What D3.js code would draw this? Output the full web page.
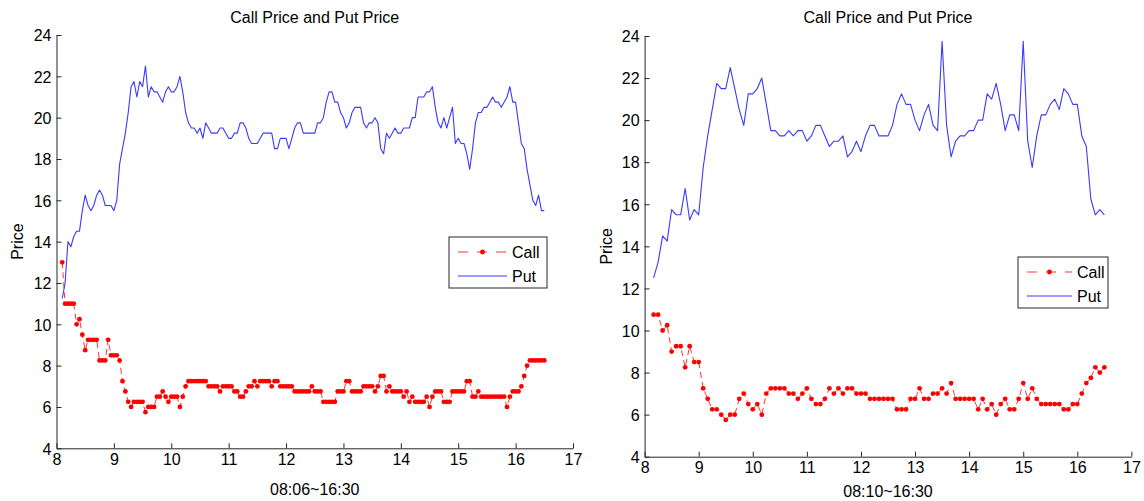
<!DOCTYPE html>
<html>
<head>
<meta charset="utf-8">
<script src="https://cdn.jsdelivr.net/npm/d3@7"></script>
<style>
  html, body { margin: 0; padding: 0; background: #fff; }
  svg { display: block; font-family: "Liberation Sans", Arial, sans-serif; }
</style>
</head>
<body>
<svg id="chart" width="1144" height="501"></svg>
<script>
// Tick values shared by both panels
const xTicks = [8, 9, 10, 11, 12, 13, 14, 15, 16, 17];
const yTicks = [4, 6, 8, 10, 12, 14, 16, 18, 20, 22, 24];

// Session 08:06~16:30, one quote every 3 minutes
const leftStart = 8 + 6 / 60;
const leftStep = 3 / 60;
const callLeft = [13,
  11, 11, 11, 11, 10, 10.25, 9.5, 8.75, 9.25, 9.25, 9.25, 9.25,
  8.25, 8.25, 8.25, 9.25, 8.5, 8.5, 8.5, 8.25, 7.25, 6.75, 6.25, 6,
  6.25, 6.25, 6.25, 6.25, 5.75, 6, 6, 6, 6.5, 6.5, 6.75, 6.5, 6.25,
  6.5, 6.5, 6.5, 6, 6.5, 7, 7.25, 7.25, 7.25, 7.25, 7.25, 7.25, 7.25,
  7, 7, 7, 7, 6.75, 7, 7, 7, 7, 6.75, 6.75, 6.5, 6.5, 6.75, 7, 7, 7.25, 7,
  7.25, 7.25, 7.25, 7.25, 7, 7.25, 7.25, 7, 7, 7, 7, 7,
  6.75, 6.75, 6.75, 6.75, 6.75, 6.75, 7, 6.75, 6.75, 6.75,
  6.25, 6.25, 6.25, 6.25, 6.25, 6.75, 6.75, 6.75, 7.25, 7.25,
  6.75, 6.75, 6.75, 6.75, 7, 7, 7, 7, 6.75, 7, 7.5, 7.5, 6.75, 7,
  6.75, 6.75, 6.75, 6.75, 6.5, 6.75, 6.25, 6.5, 6.25, 6.25, 6.25, 6.25,
  6.5, 6, 6.5, 6.75, 6.75, 6.75, 6.25, 6.25, 6.25, 6.75, 6.75, 6.75, 6.75, 6.75,
  7.25, 7.25, 6.5, 6.5, 6.75, 6.5, 6.5, 6.5, 6.5, 6.5, 6.5, 6.5, 6.5, 6.5,
  6, 6.5, 6.75, 6.75, 6.75, 7, 7.5, 8, 8.25, 8.25, 8.25, 8.25, 8.25, 8.25];
const putLeft = [11.25, 12, 14, 13.75, 14.25, 14.5, 14.5, 15.5, 16.25, 15.75,
  15.5, 15.75, 16.25, 16.5, 16.25, 15.75, 15.75, 15.75, 15.5, 16,
  17.75, 18.5, 19.25, 20.25, 21.5, 21.75, 21, 21.75, 21.5, 22.5,
  21, 21.5, 21.25, 21.25, 21, 20.75, 21.25, 21.5, 21.25, 21.25,
  21.5, 22, 21.25, 20.25, 19.75, 19.5, 19.5, 19.25, 19.5, 19,
  19.75, 19.5, 19.25, 19.25, 19.25, 19.5, 19.5, 19.25, 19, 19,
  19.25, 19.25, 19.75, 19.75, 19.5, 19, 18.75, 18.75, 18.75, 19,
  19.25, 19.25, 19.25, 19.25, 18.5, 18.5, 19, 19, 19, 18.5,
  19, 19.5, 19.75, 19.75, 19.25, 19.25, 19.25, 19.25, 19.25, 19.75,
  19.75, 20, 20.75, 21.25, 21.25, 20.75, 20.75, 20.25, 20, 19.5,
  19.75, 20.25, 20.5, 20.5, 20.5, 19.75, 19.5, 19.75, 19.75, 20,
  19.75, 18.5, 18.25, 19.25, 19, 19.25, 19.5, 19.25, 19.25, 19.5,
  19.5, 19.5, 20, 20, 21, 21, 21, 21.25, 21.25, 21.5,
  20.5, 19.75, 19.5, 20, 19.5, 20, 20.5, 18.75, 19, 18.75,
  18.75, 18.25, 17.5, 18.5, 19.75, 20.25, 20.25, 20.5, 20.5, 20.75,
  21, 20.75, 20.75, 20.5, 20.75, 21, 21.5, 20.75, 20.75, 19.75,
  18.75, 18.5, 17.5, 16.75, 16, 15.75, 16.25, 15.5, 15.5];

// Session 08:10~16:30, one quote every 5 minutes
const rightStart = 8 + 10 / 60;
const rightStep = 5 / 60;
const callRight = [10.75, 10.75, 10, 10.25, 9, 9.25, 9.25, 8.25, 9.25, 8.5,
  8.5, 7.25, 6.75, 6.25, 6.25, 6, 5.75, 6, 6, 6.75,
  7, 6.5, 6.25, 6.5, 6, 7, 7.25, 7.25, 7.25, 7.25,
  7, 7, 6.75, 7, 7.25, 6.75, 6.5, 6.5, 6.75, 7.25,
  7, 7.25, 7, 7.25, 7.25, 7, 7, 7, 6.75, 6.75,
  6.75, 6.75, 6.75, 6.75, 6.25, 6.25, 6.25, 6.75, 6.75, 7.25,
  6.75, 6.75, 7, 7, 7.25, 7, 7.5, 6.75, 6.75, 6.75,
  6.75, 6.75, 6.25, 6.75, 6.25, 6.5, 6, 6.5, 6.75, 6.25,
  6.25, 6.75, 7.5, 6.75, 7.25, 6.75, 6.5, 6.5, 6.5, 6.5,
  6.5, 6.25, 6.25, 6.5, 6.5, 7, 7.5, 7.75, 8.25, 8, 8.25];
const putRight = [12.5, 13.25, 14.5, 14.25, 15.75, 15.5, 15.5, 16.75, 15.25, 15.75,
  15.5, 17.75, 19.25, 20.5, 21.75, 21.5, 21.5, 22.5, 21.5, 20.5,
  19.75, 21.25, 21.25, 21.5, 22, 20.75, 19.5, 19.5, 19.25, 19.25,
  19.5, 19.25, 19.5, 19.5, 19, 19.25, 19.75, 19.75, 19.25, 18.75,
  19, 19, 19.25, 18.25, 18.5, 19, 18.5, 19.25, 19.75, 19.75,
  19.25, 19.25, 19.25, 19.75, 20.75, 21.25, 20.75, 20.75, 20, 19.5,
  20.25, 20.75, 19.75, 19.5, 23.75, 19.75, 18.25, 19, 19.25, 19.25,
  19.5, 19.5, 20, 20, 21.25, 21, 21.75, 20.75, 19.5, 20.25,
  20.25, 19.5, 23.75, 19, 17.75, 19.25, 20.25, 20.25, 20.75, 21,
  20.5, 21.5, 21.25, 20.75, 20.75, 19.25, 18.75, 16.25, 15.5, 15.75, 15.5];

const titleText = "Call Price and Put Price";
const yLabelText = "Price";
const legendNames = ["Call", "Put"];

const callColor = "#ff0000";
const putColor = "#3a3aff";
const axisColor = "#262626";
const fontSize = 16;

const svg = d3.select("#chart");
svg.append("rect").attr("width", 1144).attr("height", 501).attr("fill", "#fff");

function drawPanel(p) {
  const x = d3.scaleLinear().domain([8, 17]).range([p.x0, p.x1]);
  const y = d3.scaleLinear().domain([4, 24]).range([p.yBot, p.yTop]);
  const g = svg.append("g");

  const callPts = p.call.map((v, i) => [p.start + i * p.step, v]);
  const putPts = p.put.map((v, i) => [p.start + i * p.step, v]);
  const line = d3.line().x(d => x(d[0])).y(d => y(d[1]));

  // Put: solid blue line
  g.append("path").datum(putPts)
    .attr("d", line).attr("fill", "none")
    .attr("stroke", putColor).attr("stroke-width", 1.1)
    .attr("stroke-linejoin", "round");

  // Call: dashed red line with dot markers
  g.append("path").datum(callPts)
    .attr("d", line).attr("fill", "none")
    .attr("stroke", callColor).attr("stroke-width", 0.8)
    .attr("stroke-dasharray", "6,4");
  g.selectAll("circle.call").data(callPts).join("circle")
    .attr("class", "call")
    .attr("cx", d => x(d[0])).attr("cy", d => y(d[1]))
    .attr("r", 2.4).attr("fill", callColor);

  // Axes: left and bottom only, ticks pointing inward
  const xAxis = d3.axisBottom(x).tickValues(xTicks).tickFormat(d3.format("d"))
    .tickSizeInner(-5).tickSizeOuter(0).tickPadding(5);
  const yAxis = d3.axisLeft(y).tickValues(yTicks).tickFormat(d3.format("d"))
    .tickSizeInner(-5).tickSizeOuter(0).tickPadding(5);

  const gx = g.append("g").attr("transform", `translate(0,${p.yBot})`).call(xAxis);
  const gy = g.append("g").attr("transform", `translate(${p.x0},0)`).call(yAxis);
  [gx, gy].forEach(a => {
    a.select(".domain").attr("stroke", axisColor).attr("stroke-width", 1);
    a.selectAll(".tick line").attr("stroke", axisColor).attr("stroke-width", 1);
    a.selectAll(".tick text").attr("fill", "#000")
      .attr("font-family", "Liberation Sans, Arial, sans-serif").attr("font-size", fontSize);
  });
  gy.selectAll(".tick text").attr("dy", "0.36em");

  // Title and axis labels
  const cx = (p.x0 + p.x1) / 2;
  g.append("text").attr("x", cx).attr("y", 23).attr("text-anchor", "middle")
    .attr("font-size", fontSize).attr("fill", "#000").text(titleText);
  g.append("text").attr("x", cx).attr("y", p.xLabelY).attr("text-anchor", "middle")
    .attr("font-size", fontSize).attr("fill", "#000").text(p.xLabel);
  g.append("text")
    .attr("transform", `translate(${p.yLabelX},${(p.yTop + p.yBot) / 2}) rotate(-90)`)
    .attr("text-anchor", "middle").attr("font-size", fontSize).attr("fill", "#000")
    .text(yLabelText);

  // Legend
  const L = p.legend;
  const lg = g.append("g").attr("transform", `translate(${L.x},${L.y})`);
  lg.append("rect").attr("width", L.w).attr("height", L.h)
    .attr("fill", "#fff").attr("stroke", axisColor).attr("stroke-width", 1);
  const row1 = 15, row2 = 39;
  const lx1 = 9, lx2 = L.textX - 5;
  lg.append("line").attr("x1", lx1).attr("x2", lx2).attr("y1", row1).attr("y2", row1)
    .attr("stroke", callColor).attr("stroke-width", 0.8).attr("stroke-dasharray", "10,9");
  lg.append("circle").attr("cx", (lx1 + lx2) / 2).attr("cy", row1).attr("r", 2.4).attr("fill", callColor);
  lg.append("line").attr("x1", lx1).attr("x2", lx2).attr("y1", row2).attr("y2", row2)
    .attr("stroke", putColor).attr("stroke-width", 1.1);
  lg.append("text").attr("x", L.textX).attr("y", row1).attr("dy", "0.36em")
    .attr("font-size", fontSize).attr("fill", "#000").text(legendNames[0]);
  lg.append("text").attr("x", L.textX).attr("y", row2).attr("dy", "0.36em")
    .attr("font-size", fontSize).attr("fill", "#000").text(legendNames[1]);
}

drawPanel({
  x0: 56.5, x1: 573, yTop: 35, yBot: 448.3,
  start: leftStart, step: leftStep, call: callLeft, put: putLeft,
  xLabel: "08:06~16:30", xLabelY: 495, yLabelX: 23,
  legend: { x: 449, y: 237, w: 98, h: 51, textX: 63 }
});
drawPanel({
  x0: 644.6, x1: 1131.4, yTop: 36, yBot: 456.7,
  start: rightStart, step: rightStep, call: callRight, put: putRight,
  xLabel: "08:10~16:30", xLabelY: 497, yLabelX: 612,
  legend: { x: 1018, y: 257, w: 90, h: 51, textX: 59 }
});
</script>
</body>
</html>
